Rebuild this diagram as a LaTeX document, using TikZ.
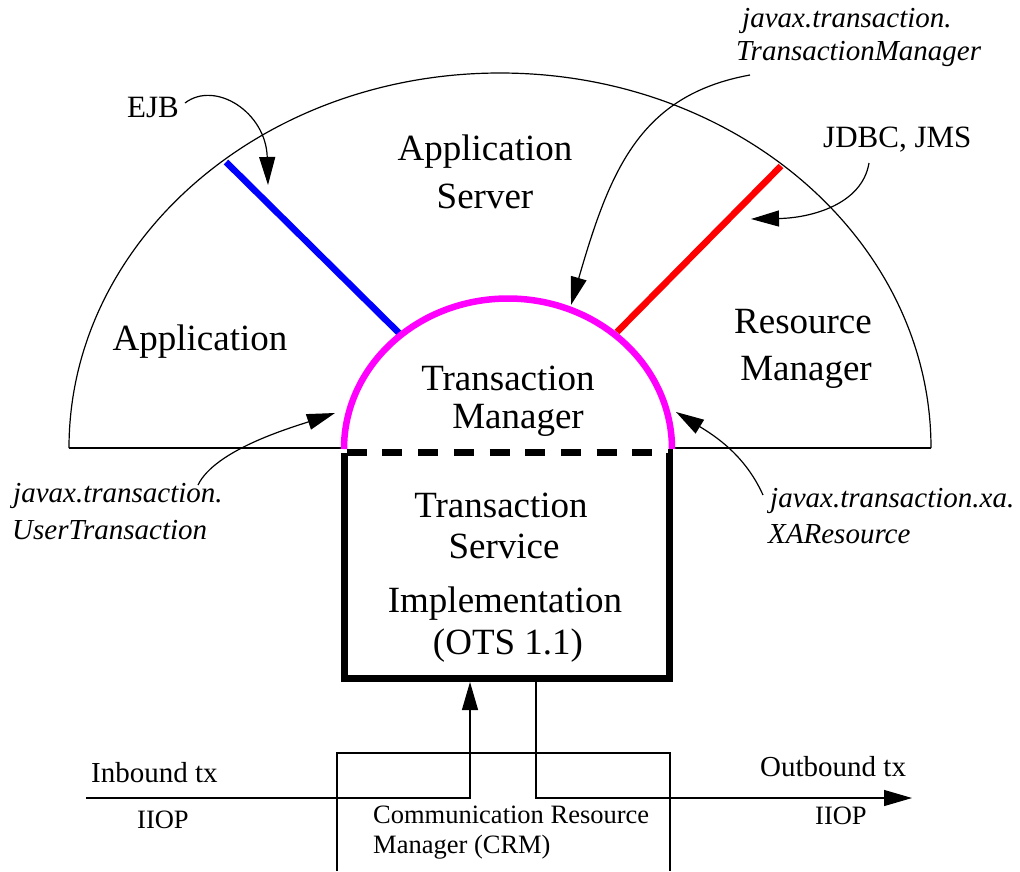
\documentclass[tikz,border=0pt]{standalone}
\usepackage{fontspec}
\setmainfont{Liberation Serif}
\usetikzlibrary{arrows.meta}

\definecolor{dome}{RGB}{255,0,255}
\definecolor{ejbblue}{RGB}{0,0,255}
\definecolor{rmred}{RGB}{255,0,0}

\tikzset{
  thin line/.style={line width=1.2pt, black},
  ptr/.style={thin line, -{Triangle[length=28pt,width=16pt]}},
  big/.style={font=\fontsize{37}{44}\selectfont, inner sep=0pt, anchor=base},
  mid/.style={font=\fontsize{31}{36}\selectfont, inner sep=0pt, anchor=base west},
  api/.style={font=\fontsize{29}{34}\selectfont\itshape, inner sep=0pt, anchor=base west},
  flow/.style={font=\fontsize{29}{34}\selectfont, inner sep=0pt, anchor=base west},
  small/.style={font=\fontsize{26.5}{31}\selectfont, inner sep=0pt, anchor=base west},
}

\begin{document}
\begin{tikzpicture}[x=1pt,y=-1pt]
\useasboundingbox[fill=white] (0,0) rectangle (1020,871);

% outer half ellipse: application server
\draw[thin line] (69,448) arc[start angle=180, end angle=0, x radius=431pt, y radius=375pt];
\draw[thin line] (69,448) -- (343,448);
\draw[thin line] (672,448) -- (931,448);

% EJB and JDBC/JMS interfaces
\draw[ejbblue, line width=6.5pt] (226,162) -- (399,333);
\draw[rmred, line width=6.5pt] (781,166) -- (617,332);

% transaction manager dome
\draw[dome, line width=6.5pt] (344,449) arc[start angle=180, end angle=0, x radius=164pt, y radius=150.5pt];

% transaction service box
\draw[line width=7pt, line join=miter] (344.5,452.5) -- (344.5,678.5) -- (669.5,678.5) -- (669.5,452.5);
\draw[line width=7pt, dash pattern=on 20pt off 15.7pt, dash phase=30pt] (341,452.5) -- (673,452.5);

% communication resource manager
\draw[thin line] (337,871) -- (337,753) -- (670,753) -- (670,871);

% region labels
\node[big] (appl) at (200,350) {Application};
\node[big] (as1) at (485,160) {Application};
\node[big] (as2) at (485,208) {Server};
\node[big] (rm1) at (803,333) {Resource};
\node[big] (rm2) at (806,380) {Manager};
\node[big] (tm1) at (508,390) {Transaction};
\node[big] (tm2) at (518,428) {Manager};
\node[big] (ts1) at (501,517) {Transaction};
\node[big] (ts2) at (504,558) {Service};
\node[big] (ts3) at (505,612) {Implementation};
\node[big] (ts4) at (508,654) {(OTS 1.1)};

% interface labels
\node[mid] (ejb) at (127,117) {EJB};
\node[mid] (jdbc) at (823,147) {JDBC, JMS};
\node[api] (tmi1) at (742,27) {javax.transaction.};
\node[api] (tmi2) at (736,60) {TransactionManager};
\node[api] (ut1) at (13,502) {javax.transaction.};
\node[api] (ut2) at (12,539) {UserTransaction};
\node[api] (xa1) at (770,507) {javax.transaction.xa.};
\node[api] (xa2) at (768,543) {XAResource};

% protocol labels
\node[flow] (inb) at (91,782) {Inbound tx};
\node[small] (iiopl) at (137,828) {IIOP};
\node[flow] (outb) at (760,776) {Outbound tx};
\node[small] (iiopr) at (815,824) {IIOP};
\node[small] (crm1) at (373,823) {Communication Resource};
\node[small] (crm2) at (373,853) {Manager (CRM)};

% annotation pointers
\coordinate (ejbS) at (185,103);   \coordinate (ejbT) at (268,185);
\coordinate (tmS) at (750,75);     \coordinate (tmT) at (571,305);
\coordinate (jdbcS) at (869,163);  \coordinate (jdbcT) at (751,219);
\coordinate (utS) at (198,485);    \coordinate (utT) at (335,413);
\coordinate (xaS) at (763,495);    \coordinate (xaT) at (676,412);

\draw[ptr] (ejbS) .. controls (215,80) and (266,112) .. (ejbT);
\draw[ptr] (tmS) .. controls (640,95) and (610,170) .. (tmT);
\draw[ptr] (jdbcS) .. controls (862,205) and (810,218) .. (jdbcT);
\draw[ptr] (utS) .. controls (215,450) and (290,428) .. (utT);
\draw[ptr] (xaS) .. controls (745,455) and (715,436) .. (xaT);

% inbound / outbound flows through the CRM
\coordinate (inS) at (86,798);
\coordinate (inK) at (470,798);
\coordinate (inT) at (470,682);
\coordinate (outS) at (536,682);
\coordinate (outK) at (536,798);
\coordinate (outT) at (912,798);
\draw[ptr] (inS) -- (inK) -- (inT);
\draw[ptr] (outS) -- (outK) -- (outT);
\end{tikzpicture}
\end{document}
